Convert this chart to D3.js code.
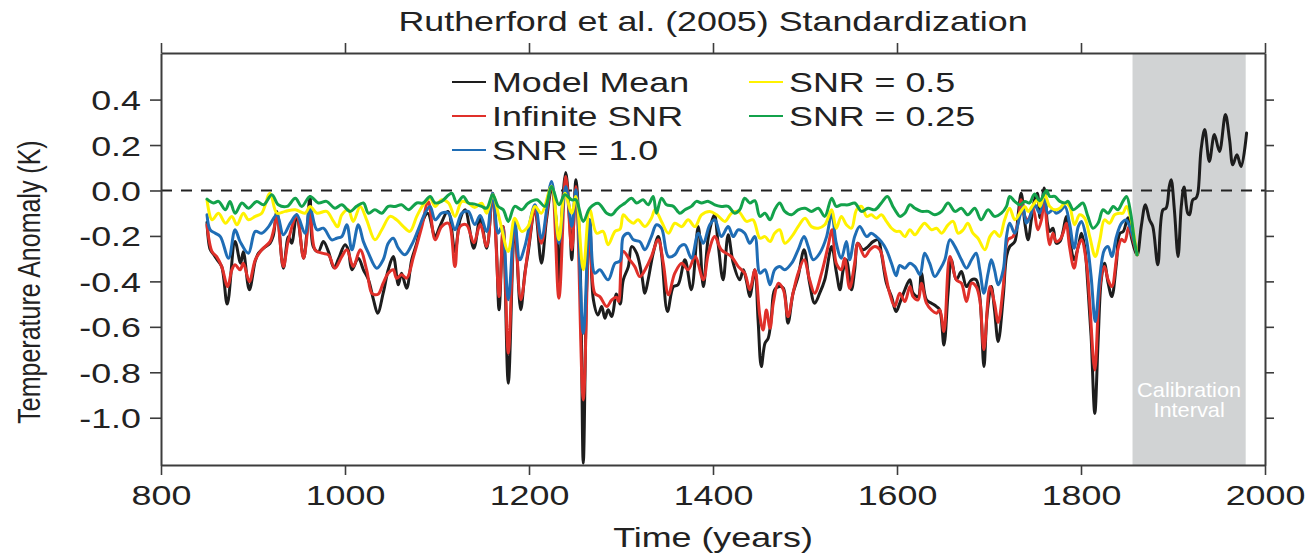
<!DOCTYPE html>
<html>
<head>
<meta charset="utf-8">
<script src="https://cdn.jsdelivr.net/npm/d3@7/dist/d3.min.js"></script>
<style>
  html, body { margin: 0; padding: 0; background: #fff; }
  svg { display: block; }
  text { font-family: "Liberation Sans", Arial, Helvetica, sans-serif; fill: #222; }
</style>
</head>
<body>
<svg id="chart" width="1306" height="555"></svg>
<script>
// ---- data: reconstructed NH temperature anomaly (K) ----
const meanYears = [850,853.5,857,861,866,872,880.5,886.5,889.5,896,902.5,906,911.5,918.5,922,926,933,938.5,942,947.5,955,958.5,962,965.5,971,976.5,982,988,993,1000,1003.5,1007.5,1014.5,1020,1025.5,1031,1035.5,1041.5,1047,1052.5,1058,1061.5,1067,1072.5,1078,1083.5,1090,1098,1103,1112,1119.5,1125,1130.5,1140,1147,1154,1160.5,1164.5,1167.5,1172,1177.5,1184.5,1191,1195.5,1199,1206.5,1213.5,1219,1224.5,1230,1232.5,1236,1240,1244.5,1246.5,1251,1255.5,1259,1262.5,1266,1270,1275,1279,1282.5,1286,1290,1295,1299,1302.5,1308,1311.5,1317,1322.5,1326,1329.5,1335,1340.5,1344,1350.5,1357,1362,1369.5,1376.5,1384,1389.5,1395,1401.5,1405.5,1411,1416.5,1422,1429,1433,1436.5,1440,1445.5,1449,1452.5,1456.5,1460,1463.5,1467,1472.5,1476.5,1481.5,1487,1492.5,1499,1505,1510.5,1516,1521.5,1529,1534,1538,1541.5,1545,1550.5,1554,1557.5,1563,1568.5,1574,1579.5,1583,1588.5,1594,1599,1603,1608.5,1614,1617.5,1623,1626.5,1632,1637.5,1643,1646.5,1651,1655.5,1659,1664.5,1670,1675.5,1681,1686,1690,1694.5,1698,1702.5,1706,1710,1715.5,1719,1722.5,1728,1731.5,1735,1739,1742.5,1746,1749.5,1752.5,1755.5,1760,1763.5,1766,1769.5,1773,1777,1780.5,1784,1787.5,1792.5,1797,1800.5,1804,1807.5,1811,1815,1818.5,1822,1825.5,1829.5,1833.5,1838.5,1842,1846,1851,1855,1861,1865.5,1870,1874.5,1878,1883.5,1889,1892.5,1896,1898,1901.5,1905.5,1909,1912,1916,1918,1921.5,1925,1927,1930.5,1934.5,1939.5,1945,1950.5,1957,1961.5,1965,1969.5,1974,1980];
const meanTemps = [-0.14,-0.26,-0.28,-0.305,-0.335,-0.5,-0.225,-0.32,-0.27,-0.437,-0.31,-0.276,-0.254,-0.232,-0.2,-0.092,-0.342,-0.203,-0.232,-0.107,-0.298,-0.188,-0.026,-0.247,-0.269,-0.225,-0.269,-0.34,-0.3,-0.239,-0.261,-0.349,-0.298,-0.349,-0.393,-0.481,-0.54,-0.452,-0.349,-0.291,-0.415,-0.364,-0.43,-0.305,-0.232,-0.144,-0.1,-0.203,-0.159,-0.092,-0.269,-0.129,-0.085,-0.254,-0.12,-0.254,-0.012,-0.246,-0.525,-0.158,-0.848,-0.158,-0.525,-0.364,-0.276,-0.085,-0.32,-0.129,0.003,-0.158,-0.459,-0.085,0.079,-0.158,-0.305,0.047,-0.305,-1.2,-0.452,-0.129,-0.481,-0.548,-0.511,-0.562,-0.525,-0.555,-0.455,-0.5,-0.393,-0.335,-0.247,-0.276,-0.371,-0.452,-0.393,-0.276,-0.203,-0.276,-0.533,-0.423,-0.415,-0.305,-0.437,-0.159,-0.423,-0.203,-0.107,-0.232,-0.393,-0.195,-0.32,-0.393,-0.349,-0.401,-0.467,-0.349,-0.57,-0.775,-0.672,-0.65,-0.555,-0.437,-0.423,-0.43,-0.584,-0.452,-0.379,-0.261,-0.408,-0.496,-0.452,-0.393,-0.247,-0.357,-0.437,-0.349,-0.305,-0.437,-0.349,-0.232,-0.261,-0.247,-0.225,-0.217,-0.276,-0.408,-0.467,-0.533,-0.496,-0.437,-0.393,-0.452,-0.467,-0.364,-0.481,-0.496,-0.511,-0.526,-0.68,-0.452,-0.305,-0.393,-0.357,-0.423,-0.393,-0.393,-0.467,-0.775,-0.54,-0.423,-0.526,-0.665,-0.467,-0.291,-0.247,-0.225,-0.114,-0.012,-0.144,-0.217,-0.129,-0.041,-0.012,-0.12,0.011,-0.144,-0.18,-0.166,-0.232,-0.225,-0.18,-0.114,-0.203,-0.305,-0.247,-0.188,-0.247,-0.423,-0.643,-0.981,-0.672,-0.393,-0.32,-0.408,-0.467,-0.32,-0.19,-0.18,-0.12,-0.21,-0.283,-0.158,-0.063,-0.129,-0.158,-0.327,-0.085,-0.078,0.018,0.047,-0.085,-0.29,-0.07,0.015,-0.1,-0.107,-0.041,-0.033,-0.012,0.179,0.268,0.128,0.246,0.172,0.334,0.223,0.113,0.157,0.106,0.253];

const infYears = [850,855.5,860.5,866,872.5,877,880.5,886,889.5,896,902.5,909.5,918.5,922.5,926,933,938.5,947.5,955,962,967.5,975,982,989,996.5,1002,1009,1016.5,1023.5,1029,1032.5,1036.5,1041.5,1047,1052.5,1056,1061.5,1067,1074.5,1083.5,1090.5,1098,1105,1112.5,1119.5,1125,1132,1140,1147,1154,1160.5,1167.5,1172,1177.5,1184.5,1191,1199,1206.5,1213.5,1224.5,1232.5,1240,1246.5,1251,1259,1266,1271.5,1277,1284.5,1290,1295,1297.5,1302.5,1309.5,1315,1320.5,1328,1333,1340.5,1346,1351.5,1358.5,1366,1373,1380.5,1389.5,1395,1402,1409,1420,1427.5,1434.5,1440,1445.5,1451,1454.5,1458,1462,1465.5,1471,1476.5,1481.5,1487,1492.5,1499,1505,1510.5,1518,1525,1529.5,1534,1539.5,1543,1548.5,1554,1557.5,1565,1570.5,1576,1581.5,1586.5,1592,1597.5,1603,1608.5,1614,1617.5,1623,1626.5,1632,1637.5,1643,1646.5,1651,1657.5,1664.5,1670,1675.5,1681,1686,1690,1694.5,1701,1706,1710,1715.5,1720.5,1726,1731.5,1735,1739,1742.5,1748,1753,1757,1760,1763.5,1766,1769.5,1773,1777,1780.5,1784,1787.5,1792.5,1797,1800.5,1806,1809.5,1815,1820.5,1825.5,1829.5,1833.5,1840,1844,1847.5,1852,1856.5,1861];
const infTemps = [-0.151,-0.269,-0.291,-0.335,-0.423,-0.349,-0.327,-0.349,-0.32,-0.401,-0.305,-0.261,-0.225,-0.173,-0.114,-0.335,-0.217,-0.114,-0.298,-0.1,-0.261,-0.276,-0.283,-0.342,-0.291,-0.261,-0.335,-0.261,-0.349,-0.452,-0.459,-0.455,-0.408,-0.364,-0.349,-0.386,-0.371,-0.386,-0.291,-0.159,-0.048,-0.217,-0.159,-0.144,-0.335,-0.159,-0.151,-0.23,-0.15,-0.246,-0.012,-0.467,-0.158,-0.716,-0.144,-0.481,-0.261,-0.085,-0.232,0.018,-0.474,0.062,-0.261,0.018,-0.922,-0.144,-0.452,-0.467,-0.511,-0.481,-0.47,-0.489,-0.269,-0.305,-0.335,-0.379,-0.335,-0.291,-0.217,-0.32,-0.459,-0.364,-0.32,-0.349,-0.291,-0.393,-0.276,-0.203,-0.261,-0.291,-0.335,-0.364,-0.437,-0.35,-0.555,-0.614,-0.526,-0.606,-0.496,-0.408,-0.437,-0.555,-0.452,-0.364,-0.305,-0.393,-0.452,-0.364,-0.247,-0.173,-0.32,-0.349,-0.298,-0.43,-0.32,-0.232,-0.291,-0.261,-0.247,-0.261,-0.349,-0.452,-0.51,-0.452,-0.489,-0.423,-0.467,-0.481,-0.408,-0.496,-0.526,-0.54,-0.526,-0.62,-0.291,-0.393,-0.408,-0.489,-0.408,-0.423,-0.481,-0.7,-0.423,-0.496,-0.58,-0.423,-0.217,-0.203,-0.144,-0.041,-0.114,-0.129,-0.08,-0.173,-0.129,-0.041,-0.18,-0.239,-0.188,-0.225,-0.217,-0.188,-0.144,-0.247,-0.342,-0.247,-0.217,-0.32,-0.496,-0.79,-0.423,-0.335,-0.393,-0.423,-0.261,-0.215,-0.225,-0.16,-0.217,-0.283];

const snr10Years = [850,853.5,859,864.5,873.5,880.5,886,895,902.5,909.5,917,926,933,940.5,947.5,956.5,962,969.5,976.5,985.5,991,996.5,1002,1007.5,1014.5,1020,1025.5,1034.5,1041.5,1047,1052.5,1058,1065,1072.5,1079.5,1087,1092.5,1098,1105,1112.5,1119.5,1127,1134,1141,1147,1154,1160.5,1166.5,1170.5,1177.5,1184.5,1190,1195.5,1206.5,1213.5,1224.5,1232.5,1240,1246.5,1251,1259,1266,1271.5,1277,1286,1293.5,1299,1302.5,1308,1313.5,1320.5,1326,1333,1338.5,1344,1351.5,1358.5,1364,1369.5,1376.5,1384,1389.5,1396.5,1402,1409,1416.5,1422,1427.5,1434.5,1440,1445.5,1451,1456.5,1462,1467,1472.5,1478,1485.5,1492.5,1499,1503.5,1509,1516,1523.5,1529,1534,1539.5,1545,1548.5,1554,1559.5,1567,1572,1577.5,1583,1588.5,1594,1599,1603,1608.5,1614,1619.5,1625,1630,1635.5,1641,1646.5,1652,1657.5,1663,1670,1675.5,1681,1686,1690,1694.5,1699,1702.5,1706,1710,1715.5,1719,1722.5,1728,1733.5,1737,1740.5,1744,1749.5,1755,1760,1764,1769.5,1773,1777,1782.5,1787.5,1792.5,1797,1800.5,1806,1811,1815.5,1820.5,1825.5,1829.5,1833.5,1838.5,1844,1849,1853,1856.5,1861];
const snr10Temps = [-0.107,-0.173,-0.188,-0.203,-0.298,-0.173,-0.225,-0.276,-0.18,-0.188,-0.159,-0.107,-0.195,-0.144,-0.107,-0.188,-0.078,-0.173,-0.166,-0.217,-0.21,-0.203,-0.151,-0.261,-0.151,-0.225,-0.276,-0.342,-0.305,-0.232,-0.21,-0.254,-0.283,-0.239,-0.173,-0.1,-0.07,-0.129,-0.1,-0.1,-0.173,-0.1,-0.092,-0.15,-0.11,-0.18,-0.012,-0.188,-0.158,-0.481,-0.136,-0.305,-0.246,-0.063,-0.21,0.04,-0.232,0.018,-0.158,0.003,-0.628,-0.129,-0.364,-0.349,-0.393,-0.32,-0.31,-0.203,-0.188,-0.217,-0.225,-0.261,-0.203,-0.151,-0.166,-0.291,-0.283,-0.247,-0.239,-0.298,-0.188,-0.232,-0.151,-0.129,-0.203,-0.159,-0.203,-0.173,-0.188,-0.232,-0.203,-0.364,-0.349,-0.415,-0.349,-0.335,-0.349,-0.32,-0.261,-0.203,-0.247,-0.305,-0.276,-0.203,-0.1,-0.232,-0.298,-0.225,-0.305,-0.203,-0.159,-0.203,-0.188,-0.203,-0.225,-0.261,-0.32,-0.375,-0.33,-0.342,-0.32,-0.335,-0.371,-0.276,-0.32,-0.379,-0.349,-0.305,-0.217,-0.247,-0.305,-0.342,-0.305,-0.276,-0.349,-0.452,-0.364,-0.305,-0.349,-0.415,-0.349,-0.203,-0.144,-0.188,-0.114,-0.07,-0.144,-0.122,-0.062,-0.1,-0.012,-0.1,-0.085,-0.1,-0.092,-0.07,-0.144,-0.254,-0.159,-0.136,-0.217,-0.379,-0.577,-0.379,-0.261,-0.247,-0.291,-0.203,-0.144,-0.13,-0.159,-0.203,-0.283];

const snr05Years = [850,855.5,862.5,870,877,882.5,889.5,895,902.5,909.5,918.5,926,935,946,956.5,962,969.5,980,987.5,992,996.5,1003.5,1009,1016.5,1023.5,1032.5,1040,1049,1056,1063.5,1070.5,1078,1085,1092.5,1098,1105,1112.5,1119.5,1127,1134,1141,1148.5,1154,1160.5,1168.5,1177.5,1184.5,1192,1199,1206.5,1213.5,1224.5,1232.5,1239,1246.5,1251,1259,1266,1273.5,1280.5,1286,1293.5,1299,1302.5,1308,1313.5,1318.5,1326,1333,1337,1344,1351.5,1358.5,1366,1373,1380.5,1387.5,1396.5,1404,1413,1420,1427.5,1436.5,1443.5,1451,1456.5,1462,1467,1472.5,1478,1485.5,1492.5,1500,1507,1514.5,1521.5,1529,1534,1539.5,1545,1550.5,1556,1561.5,1567,1572,1577.5,1583,1588.5,1594,1599,1603,1608.5,1614,1619.5,1625,1630,1637.5,1643,1648.5,1655.5,1661,1666.5,1672,1677,1682.5,1688,1695.5,1701,1706,1711.5,1717,1722.5,1728,1733.5,1739,1742.5,1748,1753,1755.5,1760.5,1766,1771.5,1777,1782.5,1787.5,1793,1798.5,1804,1809.5,1815.5,1820.5,1825.5,1831,1836.5,1842,1845.5,1849.5,1854.5,1861];
const snr05Temps = [-0.041,-0.129,-0.1,-0.144,-0.114,-0.151,-0.1,-0.129,-0.114,-0.1,-0.012,-0.1,-0.092,-0.085,-0.1,-0.07,-0.1,-0.092,-0.136,-0.16,-0.107,-0.085,-0.136,-0.07,-0.129,-0.217,-0.173,-0.114,-0.129,-0.159,-0.18,-0.114,-0.063,-0.034,-0.07,-0.041,-0.055,-0.114,-0.048,-0.055,-0.075,-0.056,-0.1,-0.019,-0.136,-0.268,-0.122,-0.18,-0.158,-0.07,-0.1,0.018,-0.217,-0.012,-0.1,-0.026,-0.349,-0.085,-0.188,-0.18,-0.239,-0.18,-0.17,-0.107,-0.129,-0.144,-0.129,-0.159,-0.122,-0.085,-0.136,-0.188,-0.144,-0.159,-0.129,-0.159,-0.107,-0.092,-0.107,-0.136,-0.1,-0.092,-0.136,-0.129,-0.21,-0.203,-0.225,-0.188,-0.173,-0.232,-0.203,-0.159,-0.122,-0.159,-0.166,-0.151,-0.085,-0.166,-0.114,-0.151,-0.166,-0.085,-0.07,-0.114,-0.107,-0.122,-0.107,-0.136,-0.166,-0.18,-0.18,-0.203,-0.173,-0.195,-0.166,-0.144,-0.173,-0.166,-0.188,-0.151,-0.136,-0.188,-0.173,-0.144,-0.188,-0.21,-0.261,-0.203,-0.18,-0.203,-0.129,-0.078,-0.129,-0.1,-0.07,-0.092,-0.063,-0.04,-0.07,-0.019,-0.07,-0.085,-0.078,-0.055,-0.07,-0.151,-0.107,-0.122,-0.203,-0.291,-0.217,-0.129,-0.144,-0.107,-0.1,-0.1,-0.07,-0.13,-0.283];

const snr025Years = [850,857,862.5,870,875,880.5,888,895,904,911.5,920.5,927.5,937,946,953,962,971,980,989,996.5,1005.5,1012.5,1020,1025.5,1032.5,1040,1047,1054.5,1061.5,1069,1078,1085,1092.5,1098,1105,1116,1121.5,1128.5,1134,1141,1148.5,1154,1160.5,1166.5,1172,1177.5,1184.5,1192,1199,1208.5,1217.5,1224.5,1232.5,1239,1246.5,1251,1259,1266,1275,1284.5,1290,1295,1299,1304.5,1311.5,1317,1324,1329.5,1335,1338.5,1344,1349.5,1357,1364,1369.5,1376.5,1382,1387.5,1395,1402,1409,1416.5,1423.5,1429,1434.5,1440,1445.5,1451,1456.5,1462,1467,1472.5,1478,1485.5,1492.5,1500,1507,1514.5,1521.5,1529,1534,1539.5,1547,1554,1561.5,1568.5,1576,1583,1589.5,1595.5,1600,1603,1608.5,1614,1619.5,1626.5,1634,1641,1648.5,1655.5,1663,1670,1677,1684.5,1691.5,1699,1706,1713.5,1719,1722.5,1728,1733.5,1739,1744,1749.5,1755,1762.5,1766,1771.5,1777,1782.5,1786,1791.5,1797,1802,1807.5,1813,1818.5,1824,1829.5,1835,1840,1845.5,1849.5,1854,1858,1861];
const snr025Temps = [-0.038,-0.055,-0.048,-0.085,-0.048,-0.1,-0.055,-0.078,-0.048,-0.063,-0.019,-0.063,-0.07,-0.034,-0.07,-0.026,-0.055,-0.048,-0.078,-0.063,-0.092,-0.07,-0.055,-0.1,-0.085,-0.1,-0.07,-0.07,-0.063,-0.085,-0.055,-0.055,-0.026,-0.055,-0.048,-0.012,-0.055,-0.026,-0.055,-0.06,-0.07,-0.078,-0.019,-0.07,-0.085,-0.136,-0.07,-0.085,-0.056,-0.041,-0.07,0.018,-0.063,-0.019,-0.041,-0.041,-0.136,-0.078,-0.056,-0.1,-0.107,-0.085,-0.07,-0.055,-0.034,-0.055,-0.041,-0.063,-0.026,-0.1,-0.034,-0.063,-0.07,-0.1,-0.085,-0.07,-0.048,-0.055,-0.048,-0.063,-0.07,-0.07,-0.1,-0.085,-0.034,-0.055,-0.045,-0.114,-0.1,-0.129,-0.085,-0.055,-0.092,-0.107,-0.085,-0.078,-0.092,-0.078,-0.114,-0.034,-0.07,-0.063,-0.063,-0.055,-0.092,-0.078,-0.085,-0.055,-0.026,-0.07,-0.1,-0.114,-0.1,-0.063,-0.078,-0.092,-0.092,-0.107,-0.092,-0.055,-0.092,-0.078,-0.107,-0.078,-0.129,-0.085,-0.114,-0.1,-0.07,-0.026,-0.048,-0.063,-0.048,-0.055,-0.015,-0.045,0,-0.026,-0.026,-0.048,-0.055,-0.048,-0.085,-0.07,-0.055,-0.114,-0.166,-0.144,-0.085,-0.1,-0.07,-0.085,-0.048,-0.026,-0.1,-0.22,-0.283];

const xTicks = [800, 1000, 1200, 1400, 1600, 1800, 2000];
const yTicks = [0.4, 0.2, 0.0, -0.2, -0.4, -0.6, -0.8, -1.0];
const calibrationInterval = [1856, 1979];

const series = [
  { name: "Model Mean",   years: meanYears,   temps: meanTemps,   color: "#1d1d1d" },
  { name: "Infinite SNR", years: infYears,    temps: infTemps,    color: "#e0302a" },
  { name: "SNR = 1.0",    years: snr10Years,  temps: snr10Temps,  color: "#1f6db5" },
  { name: "SNR = 0.5",    years: snr05Years,  temps: snr05Temps,  color: "#fff200" },
  { name: "SNR = 0.25",   years: snr025Years, temps: snr025Temps, color: "#13a24b" }
];

// ---- layout ----
const plot = { left: 161, right: 1265, top: 53, bottom: 465 };
const SX = 1.28;              // horizontal glyph stretch used throughout the figure
const FONT = 28;

const svg = d3.select("#chart");
const x = d3.scaleLinear().domain([800, 2000]).range([plot.left, plot.right]);
const y = d3.scaleLinear().domain([-1.208, 0.605]).range([plot.bottom, plot.top]);

svg.append("rect").attr("width", 1306).attr("height", 555).attr("fill", "#fff");

svg.append("defs").append("clipPath").attr("id", "plotClip")
  .append("rect")
  .attr("x", plot.left).attr("y", plot.top)
  .attr("width", plot.right - plot.left).attr("height", plot.bottom - plot.top);

// calibration interval shading
svg.append("rect")
  .attr("x", x(calibrationInterval[0]))
  .attr("y", plot.top)
  .attr("width", x(calibrationInterval[1]) - x(calibrationInterval[0]))
  .attr("height", plot.bottom - plot.top)
  .attr("fill", "#d1d3d4");

const calX = (x(calibrationInterval[0]) + x(calibrationInterval[1])) / 2;
[["Calibration", 397], ["Interval", 417]].forEach(([t, yy]) => {
  svg.append("text")
    .attr("transform", `translate(${calX},${yy}) scale(1.09,1)`)
    .attr("text-anchor", "middle")
    .style("font-size", "20px")
    .style("fill", "#ffffff")
    .text(t);
});

// zero reference line
svg.append("line")
  .attr("x1", plot.left).attr("x2", plot.right)
  .attr("y1", y(0)).attr("y2", y(0))
  .attr("stroke", "#222").attr("stroke-width", 2)
  .attr("stroke-dasharray", "11,9");

// series lines
const lineGen = d3.line()
  .x(d => x(d[0]))
  .y(d => y(d[1]))
  .curve(d3.curveCatmullRom.alpha(0.5));

const linesG = svg.append("g").attr("clip-path", "url(#plotClip)");
series.forEach(s => {
  const pts = s.years.map((yr, i) => [yr, s.temps[i]]);
  linesG.append("path")
    .datum(pts)
    .attr("d", lineGen)
    .attr("fill", "none")
    .attr("stroke", s.color)
    .attr("stroke-width", 3)
    .attr("stroke-linejoin", "round")
    .attr("stroke-linecap", "round");
});

// axes
const axisColor = "#3c3c3c";
function styleAxis(g) {
  g.selectAll(".domain").attr("stroke", axisColor).attr("stroke-width", 2);
  g.selectAll(".tick line").attr("stroke", axisColor).attr("stroke-width", 1.6);
}

const gBottom = svg.append("g")
  .attr("transform", `translate(0,${plot.bottom})`)
  .call(d3.axisBottom(x).tickValues(xTicks).tickSize(10).tickSizeOuter(0).tickFormat(d3.format("d")));
styleAxis(gBottom);
gBottom.selectAll(".tick text")
  .attr("y", null).attr("dy", null)
  .attr("transform", `translate(0,40) scale(${SX},1)`)
  .style("font-size", FONT + "px").style("fill", "#222");

const gTop = svg.append("g")
  .attr("transform", `translate(0,${plot.top})`)
  .call(d3.axisTop(x).tickValues(xTicks).tickSize(10).tickSizeOuter(0).tickFormat(""));
styleAxis(gTop);

const gLeft = svg.append("g")
  .attr("transform", `translate(${plot.left},0)`)
  .call(d3.axisLeft(y).tickValues(yTicks).tickSize(11).tickSizeOuter(0).tickFormat(d => d.toFixed(1)));
styleAxis(gLeft);
gLeft.selectAll(".tick text")
  .attr("x", null).attr("dy", null)
  .attr("transform", `translate(-20,10) scale(${SX},1)`)
  .style("font-size", FONT + "px").style("fill", "#222");

const gRight = svg.append("g")
  .attr("transform", `translate(${plot.right},0)`)
  .call(d3.axisRight(y).tickValues(yTicks).tickSize(9).tickSizeOuter(0).tickFormat(""));
styleAxis(gRight);

// titles
svg.append("text")
  .attr("transform", `translate(713,31) scale(${SX},1)`)
  .attr("text-anchor", "middle")
  .style("font-size", FONT + "px")
  .text("Rutherford et al. (2005) Standardization");

svg.append("text")
  .attr("transform", `translate(713,547) scale(${SX},1)`)
  .attr("text-anchor", "middle")
  .style("font-size", FONT + "px")
  .text("Time (years)");

svg.append("text")
  .attr("transform", `translate(40,282) scale(${SX},1) rotate(-90)`)
  .attr("text-anchor", "middle")
  .style("font-size", "25px")
  .text("Temperature Anomaly (K)");

// legend
const legendPos = [
  { lx: 452, ly: 82 },
  { lx: 452, ly: 116 },
  { lx: 452, ly: 150 },
  { lx: 749, ly: 82 },
  { lx: 749, ly: 116 }
];
const legendG = svg.append("g");
series.forEach((s, i) => {
  const p = legendPos[i];
  legendG.append("line")
    .attr("x1", p.lx).attr("x2", p.lx + 34)
    .attr("y1", p.ly).attr("y2", p.ly)
    .attr("stroke", s.color).attr("stroke-width", 2.2);
  legendG.append("text")
    .attr("transform", `translate(${p.lx + 40},${p.ly + 10}) scale(${SX},1)`)
    .style("font-size", FONT + "px")
    .text(s.name);
});
</script>
</body>
</html>
